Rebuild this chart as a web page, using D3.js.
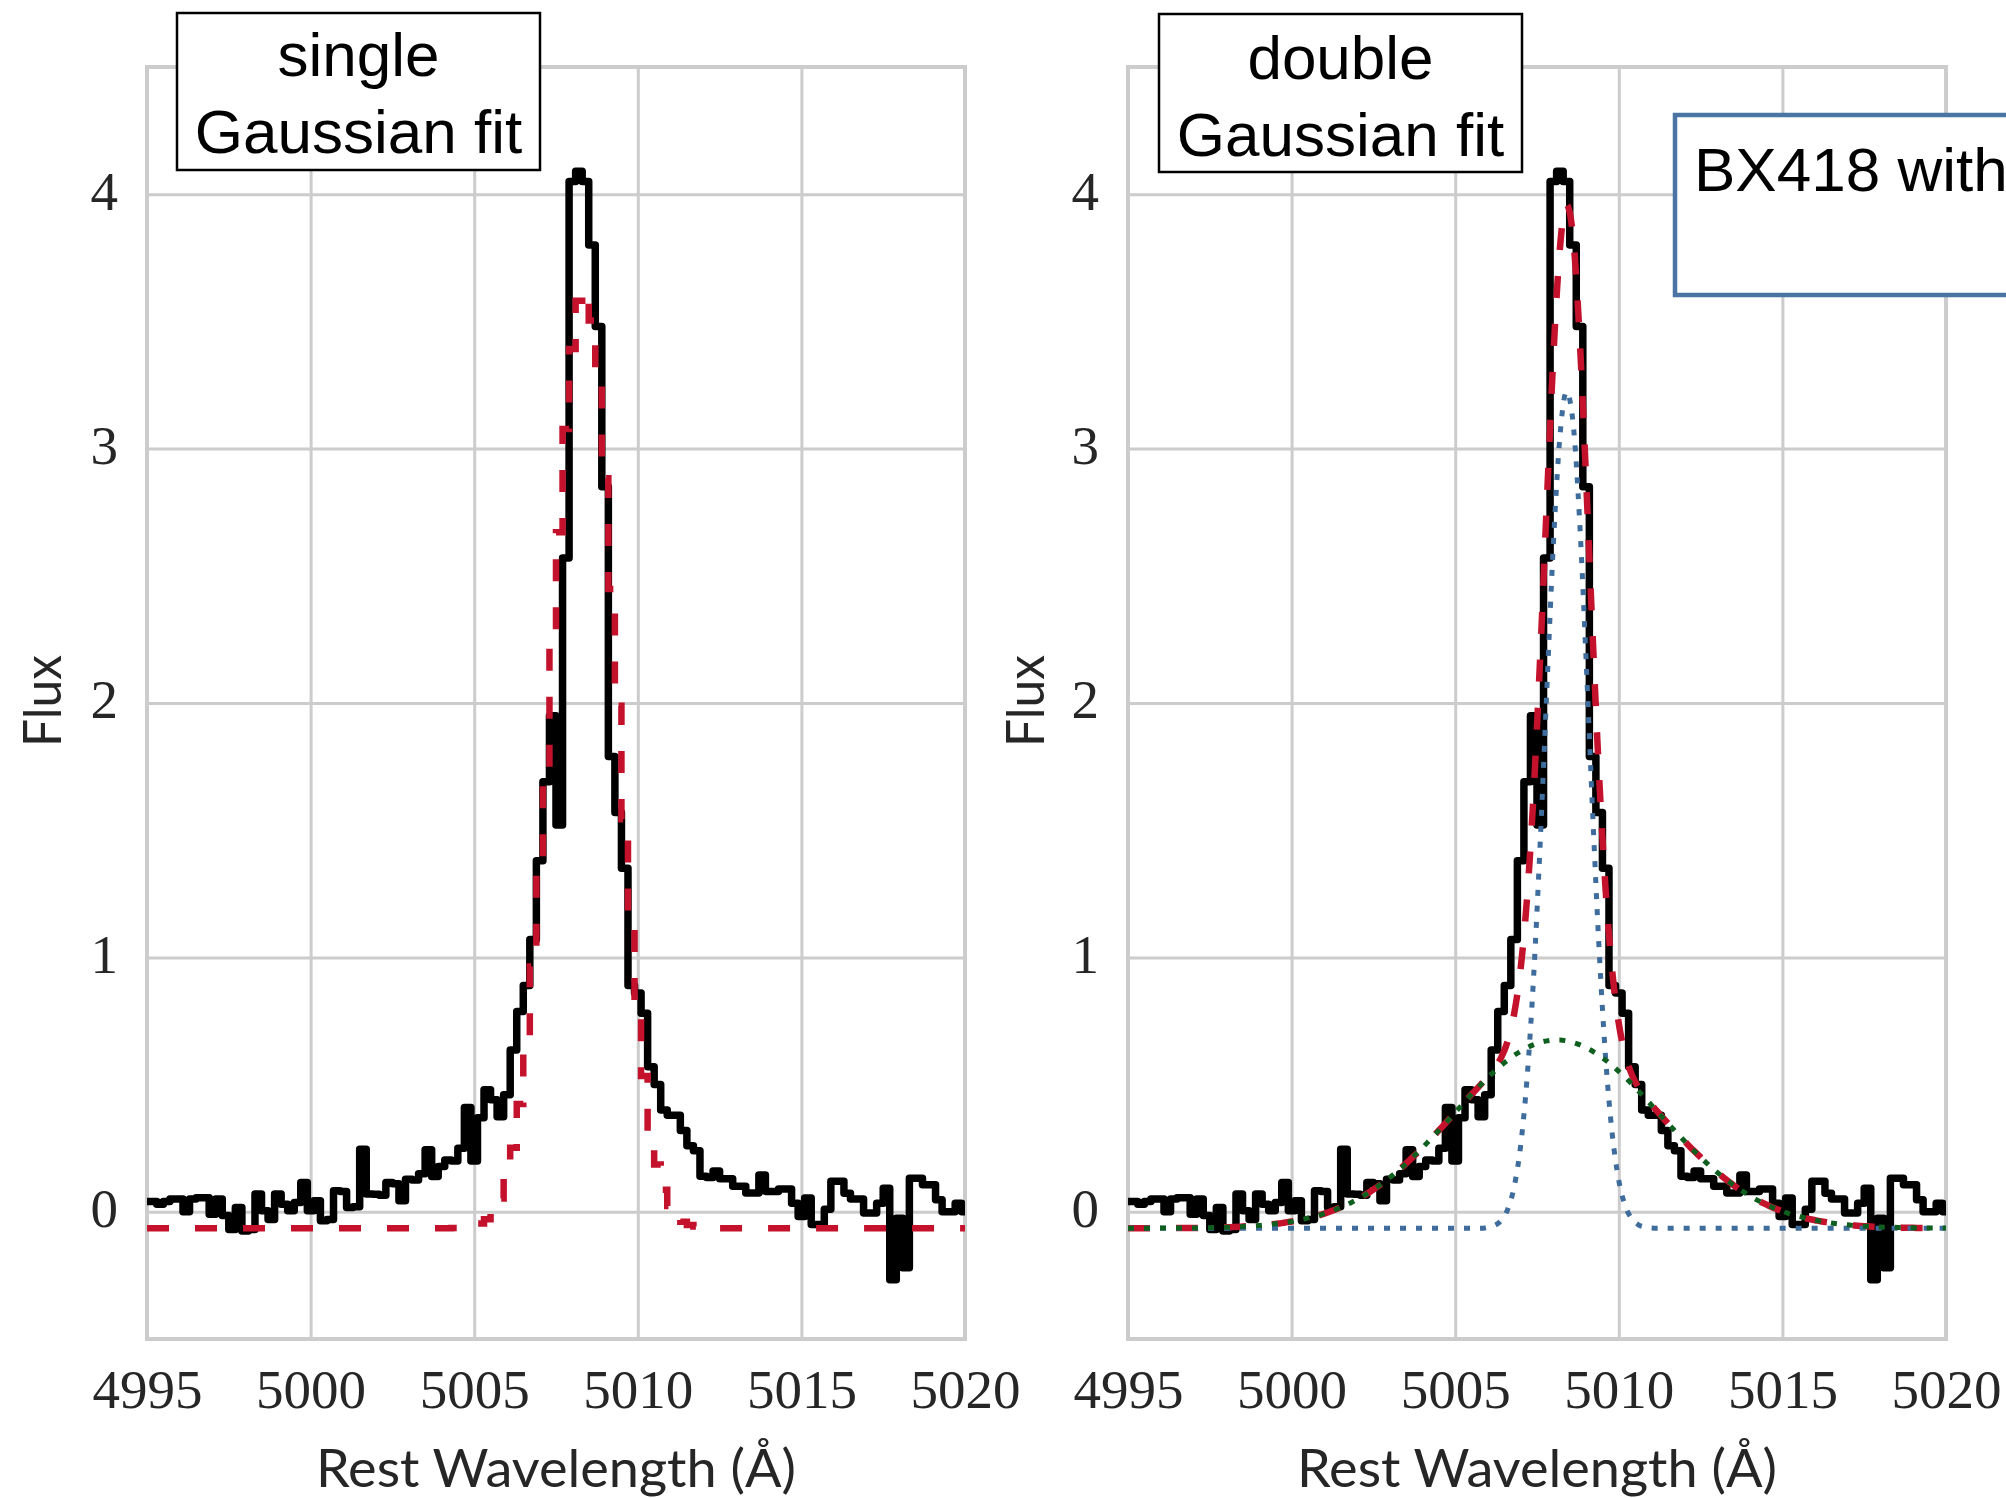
<!DOCTYPE html>
<html>
<head>
<meta charset="utf-8">
<title>BX418 [OIII] line fits</title>
<script src="https://d3js.org/d3.v7.min.js"></script>
<style>
  body { margin: 0; background: #fff; }
  svg { display: block; }
</style>
</head>
<body>
<svg id="chart" width="2006" height="1498"></svg>
<script>
// spectrum + fits, sampled every 0.2 A starting at 4995 A (126 samples)
var lambda0 = 4995.0, dLambda = 0.2;

var flux = [
  0.04, 0.04, 0.03, 0.04, 0.05, 0.05, 0.0, 0.05, 0.055, 0.055,
  -0.01, 0.05, -0.015, -0.07, 0.017, -0.075, -0.07, 0.07, 0.004, -0.03,
  0.07, 0.03, 0.004, 0.037, 0.115, 0.004, 0.043, -0.035, -0.03, 0.083,
  0.08, 0.017, 0.02, 0.246, 0.07, 0.069, 0.065, 0.115, 0.11, 0.043,
  0.128, 0.125, 0.15, 0.244, 0.139, 0.178, 0.204, 0.2, 0.25, 0.41,
  0.20, 0.37, 0.48, 0.44, 0.374, 0.46, 0.636, 0.787, 0.89, 1.07,
  1.38, 1.69, 1.95, 1.52, 2.57, 4.05, 4.09, 4.05, 3.8, 3.48,
  2.85, 1.79, 1.57, 1.35, 0.89, 0.86, 0.78, 0.57, 0.50, 0.40,
  0.38, 0.38, 0.32, 0.26, 0.24, 0.14, 0.135, 0.16, 0.13, 0.13,
  0.10, 0.10, 0.074, 0.074, 0.145, 0.08, 0.08, 0.09, 0.09, 0.034,
  -0.018, 0.054, -0.05, -0.05, 0.01, 0.12, 0.12, 0.073, 0.05, 0.05,
  -0.005, -0.005, 0.034, 0.093, -0.267, -0.025, -0.22, 0.132, 0.132, 0.106,
  0.106, 0.047, 0.0, 0.0, 0.034, 0.0
];

// single Gaussian model (left panel)
var singleFit = [
  -0.065, -0.065, -0.065, -0.065, -0.065, -0.065, -0.065, -0.065, -0.065, -0.065,
  -0.065, -0.065, -0.065, -0.065, -0.065, -0.065, -0.065, -0.065, -0.065, -0.065,
  -0.065, -0.065, -0.065, -0.065, -0.065, -0.065, -0.065, -0.065, -0.065, -0.065,
  -0.065, -0.065, -0.065, -0.065, -0.065, -0.065, -0.065, -0.065, -0.065, -0.065,
  -0.065, -0.065, -0.065, -0.065, -0.065, -0.065, -0.065, -0.064, -0.063, -0.060,
  -0.056, -0.046, -0.029, 0.001, 0.052, 0.131, 0.252, 0.424, 0.660, 0.964,
  1.336, 1.762, 2.219, 2.671, 3.077, 3.392, 3.581, 3.620, 3.504, 3.249,
  2.883, 2.448, 1.989, 1.543, 1.142, 0.803, 0.534, 0.331, 0.186, 0.087,
  0.023, -0.016, -0.039, -0.052, -0.058, -0.062, -0.064, -0.065, -0.065, -0.065,
  -0.065, -0.065, -0.065, -0.065, -0.065, -0.065, -0.065, -0.065, -0.065, -0.065,
  -0.065, -0.065, -0.065, -0.065, -0.065, -0.065, -0.065, -0.065, -0.065, -0.065,
  -0.065, -0.065, -0.065, -0.065, -0.065, -0.065, -0.065, -0.065, -0.065, -0.065,
  -0.065, -0.065, -0.065, -0.065, -0.065, -0.065
];

// double Gaussian: total, narrow and broad components (right panel)
var doubleFit = [
  -0.065, -0.065, -0.065, -0.065, -0.065, -0.064, -0.064, -0.064, -0.064, -0.064,
  -0.064, -0.063, -0.063, -0.062, -0.061, -0.061, -0.060, -0.059, -0.057, -0.056,
  -0.054, -0.051, -0.049, -0.046, -0.042, -0.038, -0.033, -0.028, -0.021, -0.015,
  -0.007, 0.002, 0.012, 0.023, 0.035, 0.048, 0.063, 0.079, 0.096, 0.115,
  0.135, 0.156, 0.178, 0.202, 0.227, 0.252, 0.279, 0.306, 0.334, 0.362,
  0.391, 0.419, 0.448, 0.475, 0.503, 0.532, 0.564, 0.605, 0.669, 0.777,
  0.956, 1.241, 1.654, 2.187, 2.788, 3.362, 3.787, 3.960, 3.836, 3.444,
  2.881, 2.267, 1.708, 1.261, 0.945, 0.740, 0.615, 0.539, 0.489, 0.453,
  0.421, 0.391, 0.362, 0.334, 0.306, 0.279, 0.252, 0.227, 0.202, 0.178,
  0.156, 0.135, 0.115, 0.096, 0.079, 0.063, 0.048, 0.035, 0.023, 0.012,
  0.002, -0.007, -0.015, -0.021, -0.028, -0.033, -0.038, -0.042, -0.046, -0.049,
  -0.051, -0.054, -0.056, -0.057, -0.059, -0.060, -0.061, -0.061, -0.062, -0.063,
  -0.063, -0.064, -0.064, -0.064, -0.064, -0.064
];

var narrowComp = [
  -0.065, -0.065, -0.065, -0.065, -0.065, -0.065, -0.065, -0.065, -0.065, -0.065,
  -0.065, -0.065, -0.065, -0.065, -0.065, -0.065, -0.065, -0.065, -0.065, -0.065,
  -0.065, -0.065, -0.065, -0.065, -0.065, -0.065, -0.065, -0.065, -0.065, -0.065,
  -0.065, -0.065, -0.065, -0.065, -0.065, -0.065, -0.065, -0.065, -0.065, -0.065,
  -0.065, -0.065, -0.065, -0.065, -0.065, -0.065, -0.065, -0.065, -0.065, -0.065,
  -0.065, -0.065, -0.065, -0.065, -0.065, -0.061, -0.054, -0.035, 0.008, 0.097,
  0.260, 0.531, 0.932, 1.456, 2.051, 2.622, 3.047, 3.223, 3.105, 2.722,
  2.171, 1.571, 1.028, 0.600, 0.305, 0.123, 0.022, -0.028, -0.051, -0.060,
  -0.064, -0.065, -0.065, -0.065, -0.065, -0.065, -0.065, -0.065, -0.065, -0.065,
  -0.065, -0.065, -0.065, -0.065, -0.065, -0.065, -0.065, -0.065, -0.065, -0.065,
  -0.065, -0.065, -0.065, -0.065, -0.065, -0.065, -0.065, -0.065, -0.065, -0.065,
  -0.065, -0.065, -0.065, -0.065, -0.065, -0.065, -0.065, -0.065, -0.065, -0.065,
  -0.065, -0.065, -0.065, -0.065, -0.065, -0.065
];

var broadComp = [
  -0.065, -0.065, -0.065, -0.065, -0.065, -0.064, -0.064, -0.064, -0.064, -0.064,
  -0.064, -0.063, -0.063, -0.062, -0.061, -0.061, -0.060, -0.059, -0.057, -0.056,
  -0.054, -0.051, -0.049, -0.046, -0.042, -0.038, -0.033, -0.028, -0.021, -0.015,
  -0.007, 0.002, 0.012, 0.023, 0.035, 0.048, 0.063, 0.079, 0.096, 0.115,
  0.135, 0.156, 0.178, 0.202, 0.227, 0.252, 0.279, 0.306, 0.334, 0.362,
  0.391, 0.419, 0.448, 0.475, 0.502, 0.528, 0.552, 0.575, 0.596, 0.615,
  0.631, 0.645, 0.657, 0.666, 0.672, 0.675, 0.675, 0.672, 0.666, 0.657,
  0.645, 0.631, 0.615, 0.596, 0.575, 0.552, 0.528, 0.502, 0.475, 0.448,
  0.419, 0.391, 0.362, 0.334, 0.306, 0.279, 0.252, 0.227, 0.202, 0.178,
  0.156, 0.135, 0.115, 0.096, 0.079, 0.063, 0.048, 0.035, 0.023, 0.012,
  0.002, -0.007, -0.015, -0.021, -0.028, -0.033, -0.038, -0.042, -0.046, -0.049,
  -0.051, -0.054, -0.056, -0.057, -0.059, -0.060, -0.061, -0.061, -0.062, -0.063,
  -0.063, -0.064, -0.064, -0.064, -0.064, -0.064
];

var xTicks = [4995, 5000, 5005, 5010, 5015, 5020];
var yTicks = [0, 1, 2, 3, 4];
var xLabel = "Rest Wavelength (\u00C5)";
var yLabel = "Flux";
var leftTitle = ["single", "Gaussian fit"];
var rightTitle = ["double", "Gaussian fit"];
var noteText = "BX418 with";

var wave = flux.map(function(d, i) { return lambda0 + i * dLambda; });

var svg = d3.select("#chart");
svg.append("rect").attr("width", 2006).attr("height", 1498).attr("fill", "#fff");

var plotTop = 67, plotBottom = 1339;
var y = d3.scaleLinear().domain([-0.5, 4.5]).range([plotBottom, plotTop]);

var RED = "#c4122c", BLUE = "#3e6c9c", GREEN = "#0f5f1f", GRID = "#cccccc", TXT = "#262626";

function drawPanel(opts) {
  var x = d3.scaleLinear().domain([4995, 5020]).range([opts.left, opts.right]);
  var W = opts.right - opts.left;
  var g = svg.append("g");

  // vertical grid + x tick labels
  var gx = g.append("g")
      .attr("transform", "translate(0," + plotBottom + ")")
      .call(d3.axisBottom(x).tickValues(xTicks).tickSize(-(plotBottom - plotTop)).tickFormat(d3.format("d")));
  gx.select(".domain").remove();
  gx.selectAll("line").attr("stroke", GRID).attr("stroke-width", 3);
  gx.selectAll("text")
      .attr("y", 69).attr("dy", 0)
      .attr("fill", TXT)
      .style("font-family", "'Liberation Serif', 'DejaVu Serif', serif")
      .style("font-size", "55px");

  // horizontal grid + y tick labels
  var gy = g.append("g")
      .attr("transform", "translate(" + opts.left + ",0)")
      .call(d3.axisLeft(y).tickValues(yTicks).tickSize(-W).tickPadding(29).tickFormat(d3.format("d")));
  gy.select(".domain").remove();
  gy.selectAll("line").attr("stroke", GRID).attr("stroke-width", 3);
  gy.selectAll("text")
      .attr("dy", "0.27em")
      .attr("fill", TXT)
      .style("font-family", "'Liberation Serif', 'DejaVu Serif', serif")
      .style("font-size", "55px");

  // frame
  g.append("rect")
      .attr("x", opts.left).attr("y", plotTop)
      .attr("width", W).attr("height", plotBottom - plotTop)
      .attr("fill", "none").attr("stroke", GRID).attr("stroke-width", 4);

  // axis labels
  g.append("text")
      .attr("x", (opts.left + opts.right) / 2).attr("y", 1487)
      .attr("text-anchor", "middle")
      .attr("textLength", 480).attr("lengthAdjust", "spacingAndGlyphs")
      .attr("fill", TXT)
      .style("font-family", "Lato, 'DejaVu Sans', sans-serif")
      .style("font-size", "52px")
      .text(xLabel);
  g.append("text")
      .attr("transform", "translate(" + opts.yLabelX + ",701) rotate(-90)")
      .attr("text-anchor", "middle")
      .attr("textLength", 92).attr("lengthAdjust", "spacingAndGlyphs")
      .attr("fill", TXT)
      .style("font-family", "Lato, 'DejaVu Sans', sans-serif")
      .style("font-size", "52px")
      .text(yLabel);

  var clipId = "clip" + opts.left;
  svg.append("clipPath").attr("id", clipId)
    .append("rect").attr("x", opts.left).attr("y", plotTop).attr("width", W).attr("height", plotBottom - plotTop);
  var lines = g.append("g").attr("clip-path", "url(#" + clipId + ")");

  opts.series.forEach(function(s) {
    var line = d3.line()
        .x(function(d, i) { return x(wave[i]); })
        .y(function(d) { return y(d); })
        .curve(s.curve);
    lines.append("path")
        .datum(s.values)
        .attr("d", line)
        .attr("fill", "none")
        .attr("stroke", s.color)
        .attr("stroke-width", s.width)
        .attr("stroke-dasharray", s.dash || null)
        .attr("stroke-linejoin", s.dash ? "miter" : "round");
  });

  // title box
  var b = opts.box;
  g.append("rect")
      .attr("x", b[0]).attr("y", b[1]).attr("width", b[2]).attr("height", b[3])
      .attr("fill", "#fff").attr("stroke", "#000").attr("stroke-width", 2.5);
  opts.title.forEach(function(t, k) {
    g.append("text")
        .attr("x", b[0] + b[2] / 2).attr("y", opts.titleY[k])
        .attr("text-anchor", "middle")
        .attr("fill", "#000")
        .style("font-family", "'Liberation Sans', Arial, sans-serif")
        .style("font-size", "62px")
        .text(t);
  });
}

drawPanel({
  left: 147, right: 965, yLabelX: 61,
  box: [177, 13, 363, 157], title: leftTitle, titleY: [76, 153],
  series: [
    {values: flux, color: "#000", width: 7.5, curve: d3.curveStep},
    {values: singleFit, color: RED, width: 6.5, dash: "22,26", curve: d3.curveStep}
  ]
});

drawPanel({
  left: 1128, right: 1946, yLabelX: 1044,
  box: [1159, 14, 363, 158], title: rightTitle, titleY: [79, 156],
  series: [
    {values: flux, color: "#000", width: 7.5, curve: d3.curveStep},
    {values: doubleFit, color: RED, width: 6.5, dash: "22,26", curve: d3.curveMonotoneX},
    {values: narrowComp, color: BLUE, width: 5, dash: "6,10", curve: d3.curveMonotoneX},
    {values: broadComp, color: GREEN, width: 5, dash: "6,10", curve: d3.curveMonotoneX}
  ]
});

// note box on the right, running off the page like in the source figure
svg.append("rect")
    .attr("x", 1675).attr("y", 115).attr("width", 420).attr("height", 180)
    .attr("fill", "#fff").attr("stroke", "#4a74a4").attr("stroke-width", 4.5);
svg.append("text")
    .attr("x", 1694).attr("y", 191)
    .attr("fill", "#000")
    .style("font-family", "'Liberation Sans', Arial, sans-serif")
    .style("font-size", "62px")
    .text(noteText);
</script>
</body>
</html>
